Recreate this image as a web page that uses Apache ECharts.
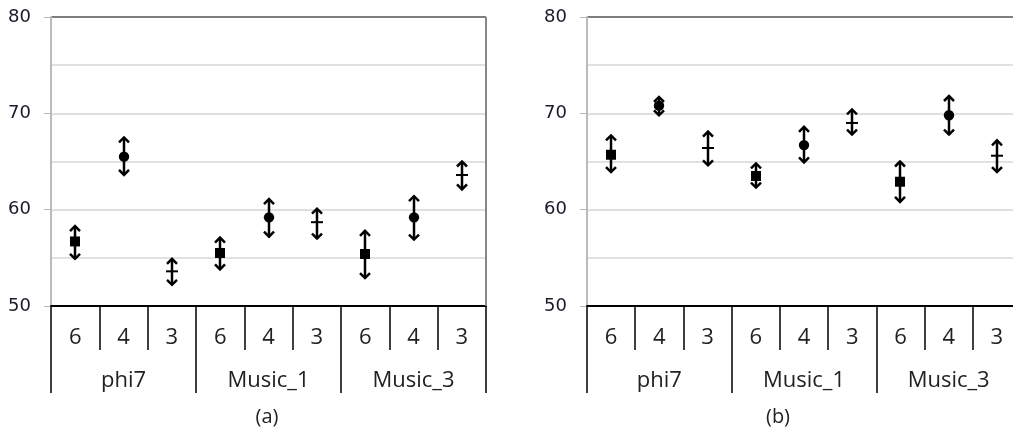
<!DOCTYPE html>
<html>
<head>
<meta charset="utf-8">
<script src="https://cdn.jsdelivr.net/npm/echarts@6/dist/echarts.min.js"></script>
<style>
html,body{margin:0;padding:0;background:#fff;overflow:hidden;}
#chart{width:1030px;height:432px;}
</style>
</head>
<body>
<div id="chart"></div>
<script>
// ---- data ----
const subCategories = ['6','4','3','6','4','3','6','4','3'];
const groups = ['phi7','Music_1','Music_3'];
const yTicks = [50, 60, 70, 80];
// marker kind per point: 0 = square, 1 = circle, 2 = dash
const markerKinds = [0,1,2,0,1,2,0,1,2];

// panel (a)
const aMean = [56.7, 65.5, 53.6, 55.5, 59.2, 58.7, 55.4, 59.2, 63.6];
const aLow  = [54.9, 63.6, 52.2, 53.8, 57.2, 57.0, 52.9, 56.9, 62.1];
const aHigh = [58.3, 67.5, 54.9, 57.1, 61.1, 60.1, 57.8, 61.4, 65.0];

// panel (b)
const bMean = [65.7, 70.8, 66.4, 63.5, 66.7, 69.0, 62.9, 69.8, 65.6];
const bLow  = [63.9, 69.8, 64.6, 62.3, 64.9, 67.8, 60.8, 67.8, 63.9];
const bHigh = [67.7, 71.7, 68.1, 64.8, 68.6, 70.4, 65.0, 71.8, 67.2];

function buildData(mean, low, high) {
  return mean.map((m, i) => [i, m, low[i], high[i], markerKinds[i]]);
}

function renderItem(params, api) {
  const xi = api.value(0);
  const c = api.coord([xi, api.value(1)]);
  const lo = api.coord([xi, api.value(2)]);
  const hi = api.coord([xi, api.value(3)]);
  const kind = api.value(4);
  const st = {stroke: '#000', lineWidth: 2.5, fill: null, lineJoin: 'miter'};
  const a = 5;
  const x = Math.round(c[0]);
  const children = [
    {type: 'line', shape: {x1: x, y1: hi[1] + 1, x2: x, y2: lo[1] - 1}, style: st},
    {type: 'polyline', shape: {points: [[x - a, hi[1] + a], [x, hi[1]], [x + a, hi[1] + a]]}, style: st},
    {type: 'polyline', shape: {points: [[x - a, lo[1] - a], [x, lo[1]], [x + a, lo[1] - a]]}, style: st}
  ];
  if (kind === 0) {
    children.push({type: 'rect', shape: {x: x - 5, y: c[1] - 5, width: 10, height: 10}, style: {fill: '#000'}});
  } else if (kind === 1) {
    children.push({type: 'circle', shape: {cx: x, cy: c[1], r: 5.2}, style: {fill: '#000'}});
  } else {
    children.push({type: 'line', shape: {x1: x - 6, y1: c[1], x2: x + 6, y2: c[1]}, style: {stroke: '#000', lineWidth: 2}});
  }
  return {type: 'group', children: children};
}

const catFont = '"Open Sans", "DejaVu Sans", sans-serif';
const numFont = '"DejaVu Sans", Verdana, sans-serif';

function grid(left, width) {
  return {left: left, top: 17, width: width, height: 289, containLabel: false};
}

function subAxis(gi) {
  return {
    type: 'category', gridIndex: gi, data: subCategories, position: 'bottom',
    boundaryGap: true,
    axisLine: {show: true, lineStyle: {color: '#000', width: 2}},
    axisTick: {show: true, interval: 0, length: 44, lineStyle: {color: '#000', width: 1.5}},
    axisLabel: {interval: 0, margin: 21, fontSize: 22, color: '#222', fontFamily: catFont},
    splitLine: {show: false}
  };
}
function groupAxis(gi) {
  return {
    type: 'category', gridIndex: gi, data: groups, position: 'bottom',
    boundaryGap: true,
    axisLine: {show: false},
    axisTick: {show: true, interval: 0, length: 87, lineStyle: {color: '#000', width: 1.5}},
    axisLabel: {interval: 0, margin: 64, fontSize: 22, color: '#222', fontFamily: catFont},
    splitLine: {show: false}
  };
}
function yAxis(gi) {
  return {
    type: 'value', gridIndex: gi, min: yTicks[0], max: yTicks[yTicks.length - 1], interval: 10,
    axisLine: {show: true, lineStyle: {color: '#bbb', width: 2}},
    axisTick: {show: true, length: 7, lineStyle: {color: '#bbb', width: 1}},
    axisLabel: {margin: 20, fontSize: 18, color: '#1a1a2a', fontFamily: numFont},
    splitLine: {show: true, lineStyle: {color: ['#d4d4d4', '#d4d4d4', '#d4d4d4', '#555'], width: 1.5}},
    minorTick: {show: false, splitNumber: 2},
    minorSplitLine: {show: true, lineStyle: {color: '#d8d8d8', width: 1.5}}
  };
}

const option = {
  animation: false,
  backgroundColor: '#fff',
  grid: [grid(51, 435), grid(587, 434)],
  xAxis: [subAxis(0), groupAxis(0), subAxis(1), groupAxis(1)],
  yAxis: [yAxis(0), yAxis(1)],
  series: [
    {type: 'custom', xAxisIndex: 0, yAxisIndex: 0, renderItem: renderItem, data: buildData(aMean, aLow, aHigh), z: 10},
    {type: 'custom', xAxisIndex: 2, yAxisIndex: 1, renderItem: renderItem, data: buildData(bMean, bLow, bHigh), z: 10}
  ],
  graphic: [
    {type: 'line', shape: {x1: 486, y1: 17, x2: 486, y2: 306}, style: {stroke: '#888', lineWidth: 2}, z: 5},
    {type: 'text', x: 267, y: 417, style: {text: '(a)', font: '20px ' + catFont, fill: '#222', align: 'center', verticalAlign: 'middle'}},
    {type: 'text', x: 778, y: 417, style: {text: '(b)', font: '20px ' + catFont, fill: '#222', align: 'center', verticalAlign: 'middle'}}
  ]
};

const chart = echarts.init(document.getElementById('chart'), null, {renderer: 'canvas'});
chart.setOption(option);
</script>
</body>
</html>
